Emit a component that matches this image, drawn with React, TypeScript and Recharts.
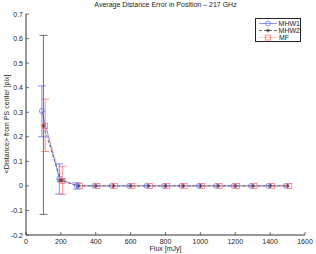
import React from 'react';
import { ComposedChart, Line, XAxis, YAxis, ErrorBar, Legend } from 'recharts';

const fluxes = [100, 200, 300, 400, 500, 600, 700, 800, 900, 1000, 1100, 1200, 1300, 1400, 1500];

const mhw1 = [0.305, 0.03, 0.0, 0, 0, 0, 0, 0, 0, 0, 0, 0, 0, 0, 0];
const mhw1Lo = [0.2, -0.033, -0.013, null, null, null, null, null, null, null, null, null, null, null, null];
const mhw1Hi = [0.407, 0.09, 0.013, null, null, null, null, null, null, null, null, null, null, null, null];

const mhw2 = [0.245, 0.022, 0.0, 0, 0, 0, 0, 0, 0, 0, 0, 0, 0, 0, 0];
const mhw2Lo = [-0.116, 0.017, null, null, null, null, null, null, null, null, null, null, null, null, null];
const mhw2Hi = [0.613, 0.027, null, null, null, null, null, null, null, null, null, null, null, null, null];

const mf = [0.244, 0.02, 0.0, 0, 0, 0, 0, 0, 0, 0, 0, 0, 0, 0, 0];
const mfLo = [0.14, -0.034, null, null, null, null, null, null, null, null, null, null, null, null, null];
const mfHi = [0.353, 0.08, null, null, null, null, null, null, null, null, null, null, null, null, null];

const xTicks = [0, 200, 400, 600, 800, 1000, 1200, 1400, 1600];
const yTicks = [-0.2, -0.1, 0, 0.1, 0.2, 0.3, 0.4, 0.5, 0.6, 0.7];

const BLUE = '#5566ff';
const RED = '#ff6060';
const DARK = '#333';
const FONT = '"Liberation Sans", Arial, sans-serif';

// each series sits a little apart on x, like the original errorbar plot
const build = (vals: number[], lo: (number | null)[], hi: (number | null)[], shift: number) =>
  fluxes.map((f, i) => ({
    x: f + shift,
    y: vals[i],
    err: lo[i] == null || hi[i] == null ? null : [vals[i] - (lo[i] as number), (hi[i] as number) - vals[i]],
  }));

const d1 = build(mhw1, mhw1Lo, mhw1Hi, -9);
const d2 = build(mhw2, mhw2Lo, mhw2Hi, 0);
const d3 = build(mf, mfLo, mfHi, 10);

const Circle = (p: any) => (
  <circle key={p.index} cx={p.cx} cy={p.cy} r={2.5} fill="none" stroke={BLUE} strokeWidth={0.7} />
);
const Square = (p: any) => (
  <rect key={p.index} x={p.cx - 2.5} y={p.cy - 2.5} width={5} height={5} fill="none" stroke={RED} strokeWidth={0.7} />
);
const Star = (p: any) => {
  const s = 2;
  return (
    <g key={p.index} stroke={DARK} strokeWidth={0.7}>
      <line x1={p.cx - s} y1={p.cy} x2={p.cx + s} y2={p.cy} />
      <line x1={p.cx} y1={p.cy - s} x2={p.cx} y2={p.cy + s} />
      <line x1={p.cx - s * 0.7} y1={p.cy - s * 0.7} x2={p.cx + s * 0.7} y2={p.cy + s * 0.7} />
      <line x1={p.cx - s * 0.7} y1={p.cy + s * 0.7} x2={p.cx + s * 0.7} y2={p.cy - s * 0.7} />
    </g>
  );
};

const XTick = ({ x, y, payload }: any) => (
  <g>
    <line x1={x} y1={y} x2={x} y2={y - 3} stroke={DARK} strokeWidth={0.7} />
    <text x={x} y={y + 9} textAnchor="middle" fontSize={7} fontFamily={FONT} fill="#222">
      {payload.value}
    </text>
  </g>
);

const YTick = ({ x, y, payload }: any) => (
  <g>
    <line x1={x} y1={y} x2={x + 3} y2={y} stroke={DARK} strokeWidth={0.7} />
    <text x={x - 3} y={y + 2.5} textAnchor="end" fontSize={7} fontFamily={FONT} fill="#222">
      {Math.round(payload.value * 10) / 10}
    </text>
  </g>
);

// inward tick marks on the top and right frame edges
const TopTick = ({ x, y }: any) => <line x1={x} y1={y} x2={x} y2={y + 3} stroke={DARK} strokeWidth={0.7} />;
const RightTick = ({ x, y }: any) => <line x1={x} y1={y} x2={x - 3} y2={y} stroke={DARK} strokeWidth={0.7} />;

const legendRows = [
  { name: 'MHW1', color: BLUE, dash: undefined, mark: 'circle' },
  { name: 'MHW2', color: DARK, dash: '3 2', mark: 'star' },
  { name: 'MF', color: RED, dash: '1 1.5', mark: 'square' },
];

const LegendBox = () => (
  <div style={{ width: 46, height: 24, border: '1px solid #222', background: '#fff', boxSizing: 'border-box', padding: '1px 0 0 2px' }}>
    {legendRows.map(r => (
      <div key={r.name} style={{ display: 'flex', alignItems: 'center', height: 7 }}>
        <svg width={20} height={7}>
          <line x1={1} y1={3.5} x2={19} y2={3.5} stroke={r.color} strokeWidth={0.7} strokeDasharray={r.dash} />
          {r.mark === 'circle' && <Circle cx={10} cy={3.5} />}
          {r.mark === 'square' && <Square cx={10} cy={3.5} />}
          {r.mark === 'star' && <Star cx={10} cy={3.5} />}
        </svg>
        <span style={{ fontSize: 7, fontFamily: FONT, color: '#222', marginLeft: 1 }}>{r.name}</span>
      </div>
    ))}
  </div>
);

export default function App() {
  return (
    <div style={{ position: 'absolute', left: 0, top: 0, width: 316, height: 254, background: '#fff' }}>
      <div style={{ position: 'absolute', left: 26, width: 279, top: 1, textAlign: 'center', fontSize: 7, fontFamily: FONT, color: '#222' }}>
        Average Distance Error in Position – 217 GHz
      </div>
      <ComposedChart width={316} height={254} margin={{ top: 14, right: 11, bottom: 0, left: 0 }}>
        <XAxis
          xAxisId="b"
          type="number"
          dataKey="x"
          domain={[0, 1600]}
          ticks={xTicks}
          interval={0}
          allowDataOverflow
          height={19}
          tickSize={0}
          tickMargin={0}
          tickLine={false}
          tick={<XTick />}
          stroke={DARK}
          label={{ value: 'Flux [mJy]', position: 'insideBottom', offset: 3, fontSize: 7, fontFamily: FONT, fill: '#222' }}
        />
        <XAxis xAxisId="t" orientation="top" type="number" domain={[0, 1600]} ticks={xTicks} interval={0} height={0} tickSize={0} tickMargin={0} tickLine={false} tick={<TopTick />} stroke={DARK} />
        <YAxis
          yAxisId="l"
          type="number"
          domain={[-0.2, 0.7]}
          ticks={yTicks}
          interval={0}
          allowDataOverflow
          width={26}
          tickSize={0}
          tickMargin={0}
          tickLine={false}
          tick={<YTick />}
          stroke={DARK}
          label={{
            content: () => (
              <text x={9} y={124} transform="rotate(-90 9 124)" textAnchor="middle" fontSize={7} fontFamily={FONT} fill="#222">
                {'<Distance> from PS center [pix]'}
              </text>
            ),
          }}
        />
        <YAxis yAxisId="r" orientation="right" type="number" domain={[-0.2, 0.7]} ticks={yTicks} interval={0} width={0} tickSize={0} tickMargin={0} tickLine={false} tick={<RightTick />} stroke={DARK} />
        <Legend verticalAlign="middle" content={() => <LegendBox />} wrapperStyle={{ position: 'absolute', left: 255, top: 18, width: 46 }} />
        <Line data={d1} xAxisId="b" yAxisId="l" dataKey="y" name="MHW1" stroke={BLUE} strokeWidth={0.7} dot={Circle} isAnimationActive={false}>
          <ErrorBar dataKey="err" width={4} stroke={BLUE} strokeWidth={0.7} direction="y" />
        </Line>
        <Line data={d2} xAxisId="b" yAxisId="l" dataKey="y" name="MHW2" stroke={DARK} strokeWidth={0.7} strokeDasharray="3 2" dot={Star} isAnimationActive={false}>
          <ErrorBar dataKey="err" width={4} stroke={DARK} strokeWidth={0.7} direction="y" />
        </Line>
        <Line data={d3} xAxisId="b" yAxisId="l" dataKey="y" name="MF" stroke={RED} strokeWidth={0.7} strokeDasharray="1 1.5" dot={Square} isAnimationActive={false}>
          <ErrorBar dataKey="err" width={4} stroke={RED} strokeWidth={0.7} direction="y" />
        </Line>
      </ComposedChart>
    </div>
  );
}
